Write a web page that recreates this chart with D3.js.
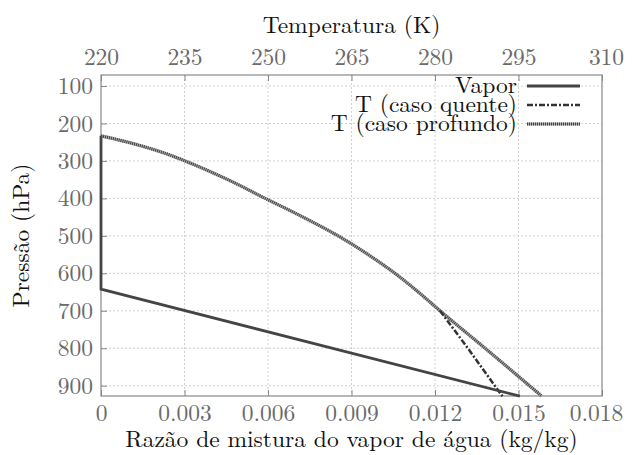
<!DOCTYPE html>
<html><head><meta charset="utf-8">
<script src="https://cdn.jsdelivr.net/npm/d3@7"></script>
<style>body{margin:0;background:#fff;}</style></head>
<body><svg id="c" width="634" height="455"></svg>
<script>
// Data
const xTicks = [0, 0.003, 0.006, 0.009, 0.012, 0.015, 0.018];
const tTicks = [220, 235, 250, 265, 280, 295, 310];
const pTicks = [100, 200, 300, 400, 500, 600, 700, 800, 900];
const vaporP = [233, 642, 928];
const vaporQ = [0, 0, 0.01505];
const deepP = [233, 245, 260, 280, 300, 350, 400, 450, 500, 550, 600, 650, 700, 800, 928];
const deepT = [220, 223.5, 227.3, 231.6, 235.1, 242.8, 249.5, 256.3, 262.6, 268.0, 272.8, 277.0, 280.9, 289.0, 299.2];
const warmP = [700, 800, 928];
const warmT = [280.9, 285.9, 292.1];
const legendLabels = ["Vapor", "T (caso quente)", "T (caso profundo)"];

const FONT = "'Latin Modern Roman', 'Liberation Serif', serif";
const FS = 23.5;
const svg = d3.select("#c");
const L = 101, R = 602, T = 75, B = 396;
const x = d3.scaleLinear().domain([0, 0.018]).range([L, R]);
const xt = d3.scaleLinear().domain([220, 310]).range([L, R]);
const y = d3.scaleLinear().domain([70.6, 927.5]).range([T, B]);

// grid
const g = svg.append("g");
g.selectAll(".gv").data(xTicks.slice(1, -1)).enter().append("line")
  .attr("x1", d => x(d)).attr("x2", d => x(d)).attr("y1", T).attr("y2", B)
  .attr("stroke", "#d0d0d0").attr("stroke-width", 1).attr("stroke-dasharray", "2,2");
g.selectAll(".gh").data(pTicks).enter().append("line")
  .attr("x1", L).attr("x2", R).attr("y1", d => y(d)).attr("y2", d => y(d))
  .attr("stroke", "#d0d0d0").attr("stroke-width", 1).attr("stroke-dasharray", "2,2");

// axes (inward ticks)
const axB = svg.append("g").attr("transform", `translate(0,${B})`)
  .call(d3.axisBottom(x).tickValues(xTicks).tickSize(-6).tickPadding(8).tickFormat(d => d === 0 ? "0" : d3.format(".3f")(d)));
const axT = svg.append("g").attr("transform", `translate(0,${T})`)
  .call(d3.axisTop(xt).tickValues(tTicks).tickSize(-6).tickPadding(10).tickFormat(d3.format("d")));
const axL = svg.append("g").attr("transform", `translate(${L},0)`)
  .call(d3.axisLeft(y).tickValues(pTicks).tickSize(-6).tickPadding(8).tickFormat(d3.format("d")));
[axB, axT, axL].forEach(a => {
  a.select(".domain").remove();
  a.selectAll(".tick line").attr("stroke", "#888");
  a.selectAll(".tick text").attr("fill", "#6a6a6a")
    .style("font-family", FONT).style("font-size", FS + "px");
});
axB.selectAll(".tick text").filter(d => d === 0.018).attr("dx", -6);
axT.selectAll(".tick text").filter(d => d === 310).attr("dx", 4);

// frame
svg.append("rect").attr("x", L).attr("y", T).attr("width", R - L).attr("height", B - T)
  .attr("fill", "none").attr("stroke", "#888").attr("stroke-width", 1.2);

// lines
const lineV = d3.line().x(d => x(d[0])).y(d => y(d[1]));
const lineT = d3.line().x(d => xt(d[0])).y(d => y(d[1]));
const lineTc = d3.line().curve(d3.curveMonotoneY).x(d => xt(d[0])).y(d => y(d[1]));

svg.append("path").datum(deepT.map((t, i) => [t, deepP[i]]))
  .attr("d", lineTc).attr("fill", "none").attr("stroke", "#aaa").attr("stroke-width", 3.2);
svg.append("path").datum(deepT.map((t, i) => [t, deepP[i]]))
  .attr("d", lineTc).attr("fill", "none").attr("stroke", "#444").attr("stroke-width", 3.2)
  .attr("stroke-dasharray", "1,1");
svg.append("path").datum(warmT.map((t, i) => [t, warmP[i]]))
  .attr("d", lineT).attr("fill", "none").attr("stroke", "#333").attr("stroke-width", 2.5)
  .attr("stroke-dasharray", "6,2,2,2");
svg.append("path").datum(vaporQ.map((q, i) => [q, vaporP[i]]))
  .attr("d", lineV).attr("fill", "none").attr("stroke", "#444").attr("stroke-width", 2.8);

// legend
const ly = [86, 105, 124];
const lg = svg.append("g");
legendLabels.forEach((lab, i) => {
  lg.append("text").attr("x", 517).attr("y", ly[i]).attr("dy", "0.3em")
    .attr("text-anchor", "end").attr("fill", "#111")
    .style("font-family", FONT).style("font-size", FS + "px").text(lab);
});
lg.append("line").attr("x1", 527).attr("x2", 580).attr("y1", ly[0]).attr("y2", ly[0])
  .attr("stroke", "#444").attr("stroke-width", 2.8);
lg.append("line").attr("x1", 527).attr("x2", 580).attr("y1", ly[1]).attr("y2", ly[1])
  .attr("stroke", "#333").attr("stroke-width", 2.5).attr("stroke-dasharray", "6,2,2,2");
lg.append("line").attr("x1", 527).attr("x2", 580).attr("y1", ly[2]).attr("y2", ly[2])
  .attr("stroke", "#aaa").attr("stroke-width", 3.2);
lg.append("line").attr("x1", 527).attr("x2", 580).attr("y1", ly[2]).attr("y2", ly[2])
  .attr("stroke", "#444").attr("stroke-width", 3.2).attr("stroke-dasharray", "1,1");

// titles
function title(sel) { return sel.attr("fill", "#111").attr("text-anchor", "middle").attr("dy", "0.3em")
  .style("font-family", FONT).style("font-size", FS + "px"); }
title(svg.append("text").attr("x", (L + R) / 2).attr("y", 26)).text("Temperatura (K)");
title(svg.append("text").attr("x", (L + R) / 2).attr("y", 440)).text("Razão de mistura do vapor de água (kg/kg)");
title(svg.append("text").attr("transform", `translate(22,${(T + B) / 2}) rotate(-90)`)).text("Pressão (hPa)");
</script></body></html>
